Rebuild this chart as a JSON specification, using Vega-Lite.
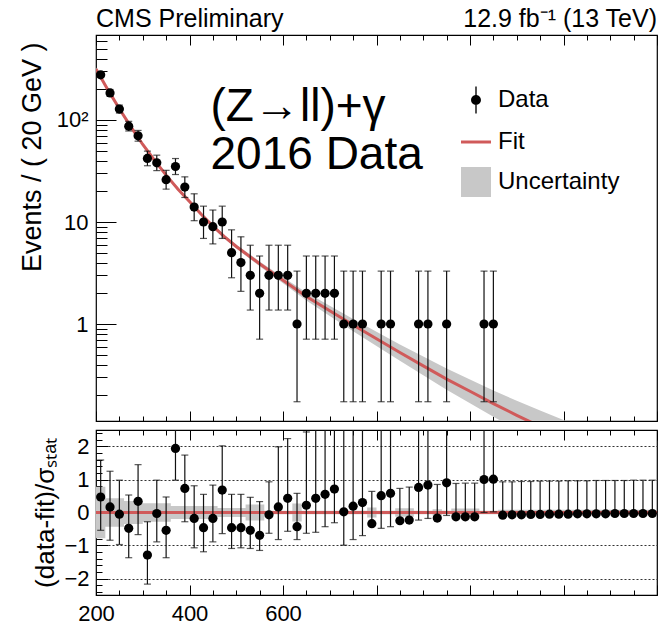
{
  "$schema": "https://vega.github.io/schema/vega-lite/v6.json",
  "background": "white",
  "padding": {"left": 17, "top": 6, "right": 0, "bottom": 0},
  "config": {
    "font": "Liberation Sans",
    "view": {"stroke": "black", "strokeWidth": 1.2},
    "axis": {"domain": false, "grid": false, "labelFont": "Liberation Sans", "labelFontSize": 22, "labelColor": "black", "tickColor": "black", "tickWidth": 1, "titleFont": "Liberation Sans", "titleFontWeight": "normal", "titleColor": "black", "labelFlush": false}
  },
  "datasets": {
    "obs": [
      {"m": 210, "n": 277, "lo": 261, "hi": 295},
      {"m": 230, "n": 184, "lo": 171, "hi": 199},
      {"m": 250, "n": 128, "lo": 117, "hi": 140},
      {"m": 270, "n": 87, "lo": 78, "hi": 97},
      {"m": 290, "n": 70, "lo": 62, "hi": 79},
      {"m": 310, "n": 42, "lo": 35.6, "hi": 49.5},
      {"m": 330, "n": 38, "lo": 31.9, "hi": 45.2},
      {"m": 350, "n": 26, "lo": 21, "hi": 32.1},
      {"m": 370, "n": 35, "lo": 29.2, "hi": 41.9},
      {"m": 390, "n": 22, "lo": 17.4, "hi": 27.7},
      {"m": 410, "n": 14, "lo": 10.3, "hi": 18.9},
      {"m": 430, "n": 10, "lo": 6.9, "hi": 14.3},
      {"m": 450, "n": 9, "lo": 6.1, "hi": 13.1},
      {"m": 470, "n": 10, "lo": 6.9, "hi": 14.3},
      {"m": 490, "n": 5, "lo": 2.84, "hi": 8.38},
      {"m": 510, "n": 4, "lo": 2.09, "hi": 7.16},
      {"m": 530, "n": 3, "lo": 1.37, "hi": 5.92},
      {"m": 550, "n": 2, "lo": 0.71, "hi": 4.64},
      {"m": 570, "n": 3, "lo": 1.37, "hi": 5.92},
      {"m": 590, "n": 3, "lo": 1.37, "hi": 5.92},
      {"m": 610, "n": 3, "lo": 1.37, "hi": 5.92},
      {"m": 630, "n": 1, "lo": 0.173, "hi": 3.3},
      {"m": 650, "n": 2, "lo": 0.71, "hi": 4.64},
      {"m": 670, "n": 2, "lo": 0.71, "hi": 4.64},
      {"m": 690, "n": 2, "lo": 0.71, "hi": 4.64},
      {"m": 710, "n": 2, "lo": 0.71, "hi": 4.64},
      {"m": 730, "n": 1, "lo": 0.173, "hi": 3.3},
      {"m": 750, "n": 1, "lo": 0.173, "hi": 3.3},
      {"m": 770, "n": 1, "lo": 0.173, "hi": 3.3},
      {"m": 810, "n": 1, "lo": 0.173, "hi": 3.3},
      {"m": 830, "n": 1, "lo": 0.173, "hi": 3.3},
      {"m": 890, "n": 1, "lo": 0.173, "hi": 3.3},
      {"m": 910, "n": 1, "lo": 0.173, "hi": 3.3},
      {"m": 950, "n": 1, "lo": 0.173, "hi": 3.3},
      {"m": 1030, "n": 1, "lo": 0.173, "hi": 3.3},
      {"m": 1050, "n": 1, "lo": 0.173, "hi": 3.3}
    ],
    "fit": [
      {"m": 200, "f": 316.2, "fl": 305.5, "fh": 327.3},
      {"m": 225, "f": 199.5, "fl": 192.8, "fh": 206.5},
      {"m": 250, "f": 128.8, "fl": 124.5, "fh": 133.4},
      {"m": 275, "f": 85.1, "fl": 82.2, "fh": 88.1},
      {"m": 300, "f": 57.5, "fl": 55.6, "fh": 59.6},
      {"m": 325, "f": 40.3, "fl": 38.9, "fh": 41.7},
      {"m": 350, "f": 28.8, "fl": 27.9, "fh": 29.9},
      {"m": 375, "f": 21.1, "fl": 20.4, "fh": 21.9},
      {"m": 400, "f": 15.85, "fl": 15.3, "fh": 16.4},
      {"m": 425, "f": 11.9, "fl": 11.5, "fh": 12.3},
      {"m": 450, "f": 9.12, "fl": 8.81, "fh": 9.44},
      {"m": 475, "f": 7.16, "fl": 6.89, "fh": 7.45},
      {"m": 500, "f": 5.75, "fl": 5.51, "fh": 6.01},
      {"m": 550, "f": 3.89, "fl": 3.68, "fh": 4.11},
      {"m": 600, "f": 2.69, "fl": 2.51, "fh": 2.88},
      {"m": 650, "f": 1.86, "fl": 1.7, "fh": 2.04},
      {"m": 700, "f": 1.35, "fl": 1.2, "fh": 1.51},
      {"m": 750, "f": 0.977, "fl": 0.851, "fh": 1.122},
      {"m": 800, "f": 0.716, "fl": 0.61, "fh": 0.841},
      {"m": 850, "f": 0.525, "fl": 0.437, "fh": 0.631},
      {"m": 900, "f": 0.389, "fl": 0.315, "fh": 0.481},
      {"m": 950, "f": 0.288, "fl": 0.227, "fh": 0.366},
      {"m": 1000, "f": 0.219, "fl": 0.1675, "fh": 0.286},
      {"m": 1050, "f": 0.166, "fl": 0.1236, "fh": 0.223},
      {"m": 1100, "f": 0.1274, "fl": 0.0918, "fh": 0.1766},
      {"m": 1150, "f": 0.0989, "fl": 0.069, "fh": 0.1416},
      {"m": 1200, "f": 0.0776, "fl": 0.0525, "fh": 0.1148},
      {"m": 1250, "f": 0.0617, "fl": 0.0403, "fh": 0.0944},
      {"m": 1300, "f": 0.049, "fl": 0.0309, "fh": 0.0776},
      {"m": 1400, "f": 0.0316, "fl": 0.0186, "fh": 0.0537}
    ],
    "res": [
      {"m": 210, "r": 0.47, "rl": -0.54, "rh": 1.59},
      {"m": 230, "r": 0.17, "rl": -0.84, "rh": 1.25},
      {"m": 250, "r": -0.05, "rl": -0.97, "rh": 0.98},
      {"m": 270, "r": -0.48, "rl": -1.37, "rh": 0.53},
      {"m": 290, "r": 0.34, "rl": -0.67, "rh": 1.45},
      {"m": 310, "r": -1.29, "rl": -2.17, "rh": -0.28},
      {"m": 330, "r": -0.03, "rl": -0.89, "rh": 0.98},
      {"m": 350, "r": -0.54, "rl": -1.37, "rh": 0.47},
      {"m": 370, "r": 1.94, "rl": 0.98, "rh": 3.2},
      {"m": 390, "r": 0.73, "rl": -0.28, "rh": 1.74},
      {"m": 410, "r": -0.18, "rl": -1.07, "rh": 0.81},
      {"m": 430, "r": -0.46, "rl": -1.19, "rh": 0.55},
      {"m": 450, "r": -0.18, "rl": -0.89, "rh": 0.83},
      {"m": 470, "r": 0.68, "rl": -0.64, "rh": 2.02},
      {"m": 490, "r": -0.46, "rl": -1.09, "rh": 0.55},
      {"m": 510, "r": -0.46, "rl": -1.07, "rh": 0.55},
      {"m": 530, "r": -0.54, "rl": -1.09, "rh": 0.46},
      {"m": 550, "r": -0.69, "rl": -1.15, "rh": 0.33},
      {"m": 570, "r": -0.07, "rl": -0.63, "rh": 0.93},
      {"m": 590, "r": 0.17, "rl": -0.82, "rh": 1.99},
      {"m": 610, "r": 0.43, "rl": -0.57, "rh": 2.24},
      {"m": 630, "r": -0.43, "rl": -0.82, "rh": 0.58},
      {"m": 650, "r": 0.22, "rl": -0.63, "rh": 2.44},
      {"m": 670, "r": 0.43, "rl": -0.6, "rh": 2.6},
      {"m": 690, "r": 0.55, "rl": -0.43, "rh": 3.2},
      {"m": 710, "r": 0.71, "rl": -0.31, "rh": 3.2},
      {"m": 730, "r": 0.02, "rl": -0.99, "rh": 3.2},
      {"m": 750, "r": 0.19, "rl": -0.82, "rh": 3.2},
      {"m": 770, "r": 0.3, "rl": -0.7, "rh": 3.2},
      {"m": 790, "r": -0.34, "rl": -0.34, "rh": 0.64},
      {"m": 810, "r": 0.51, "rl": -0.48, "rh": 3.2},
      {"m": 830, "r": 0.58, "rl": -0.43, "rh": 3.2},
      {"m": 850, "r": -0.25, "rl": -0.25, "rh": 0.73},
      {"m": 870, "r": -0.23, "rl": -0.23, "rh": 0.77},
      {"m": 890, "r": 0.76, "rl": -0.23, "rh": 3.2},
      {"m": 910, "r": 0.83, "rl": -0.18, "rh": 3.2},
      {"m": 930, "r": -0.17, "rl": -0.17, "rh": 0.85},
      {"m": 950, "r": 0.9, "rl": -0.09, "rh": 3.2},
      {"m": 970, "r": -0.13, "rl": -0.13, "rh": 0.88},
      {"m": 990, "r": -0.13, "rl": -0.13, "rh": 0.89},
      {"m": 1010, "r": -0.13, "rl": -0.13, "rh": 0.89},
      {"m": 1030, "r": 1.0, "rl": 0.0, "rh": 3.2},
      {"m": 1050, "r": 1.01, "rl": 0.02, "rh": 3.2},
      {"m": 1070, "r": -0.08, "rl": -0.08, "rh": 0.93},
      {"m": 1090, "r": -0.07, "rl": -0.07, "rh": 0.93},
      {"m": 1110, "r": -0.07, "rl": -0.07, "rh": 0.94},
      {"m": 1130, "r": -0.06, "rl": -0.06, "rh": 0.94},
      {"m": 1150, "r": -0.06, "rl": -0.06, "rh": 0.95},
      {"m": 1170, "r": -0.05, "rl": -0.05, "rh": 0.95},
      {"m": 1190, "r": -0.05, "rl": -0.05, "rh": 0.95},
      {"m": 1210, "r": -0.05, "rl": -0.05, "rh": 0.96},
      {"m": 1230, "r": -0.04, "rl": -0.04, "rh": 0.96},
      {"m": 1250, "r": -0.04, "rl": -0.04, "rh": 0.96},
      {"m": 1270, "r": -0.04, "rl": -0.04, "rh": 0.97},
      {"m": 1290, "r": -0.04, "rl": -0.04, "rh": 0.97},
      {"m": 1310, "r": -0.03, "rl": -0.03, "rh": 0.97},
      {"m": 1330, "r": -0.03, "rl": -0.03, "rh": 0.97},
      {"m": 1350, "r": -0.03, "rl": -0.03, "rh": 0.98},
      {"m": 1370, "r": -0.03, "rl": -0.03, "rh": 0.98},
      {"m": 1390, "r": -0.03, "rl": -0.03, "rh": 0.98}
    ],
    "rband": [
      {"x": 200, "lo": -0.78, "hi": 0.78},
      {"x": 220, "lo": -0.43, "hi": 0.43},
      {"x": 260, "lo": -0.35, "hi": 0.35},
      {"x": 300, "lo": -0.28, "hi": 0.28},
      {"x": 360, "lo": -0.2, "hi": 0.2},
      {"x": 460, "lo": -0.14, "hi": 0.14},
      {"x": 520, "lo": -0.24, "hi": 0.24},
      {"x": 560, "lo": -0.05, "hi": 0.05},
      {"x": 620, "lo": -0.27, "hi": 0.27},
      {"x": 640, "lo": -0.05, "hi": 0.05},
      {"x": 780, "lo": -0.15, "hi": 0.15},
      {"x": 800, "lo": -0.05, "hi": 0.05},
      {"x": 840, "lo": -0.13, "hi": 0.13},
      {"x": 880, "lo": -0.05, "hi": 0.05},
      {"x": 920, "lo": -0.1, "hi": 0.1},
      {"x": 940, "lo": -0.05, "hi": 0.05},
      {"x": 960, "lo": -0.12, "hi": 0.12},
      {"x": 1020, "lo": -0.05, "hi": 0.05},
      {"x": 1060, "lo": -0.08, "hi": 0.08},
      {"x": 1400, "lo": -0.08, "hi": 0.08}
    ],
    "leg": []
  },
  "resolve": {"legend": {"color": "independent", "shape": "independent"}},
  "spacing": 5,
  "vconcat": [
    {
      "width": 561,
      "height": 386,
      "resolve": {"axis": {"x": "independent", "y": "independent"}},
      "layer": [
        {
          "data": {"name": "fit"},
          "mark": {"type": "area", "color": "#c8c8c8", "clip": true},
          "encoding": {
            "x": {"field": "m", "type": "quantitative", "scale": {"domain": [200, 1400], "nice": false, "zero": false},
                  "axis": {"orient": "bottom", "values": [200, 400, 600, 800, 1000, 1200, 1400], "labels": false, "tickSize": -10, "title": null}},
            "y": {"field": "fl", "type": "quantitative", "scale": {"type": "log", "domain": [0.112, 681], "nice": false},
                  "axis": {"orient": "left", "values": [1, 10, 100], "labelExpr": "datum.value == 100 ? '10²' : (datum.value == 10 ? '10' : '1')", "tickSize": -20, "labelPadding": 28,
                           "title": "Events / ( 20 GeV )", "titleFontSize": 27, "titleAnchor": "end", "titleX": -56, "titleY": 7, "titleBaseline": "alphabetic"}},
            "y2": {"field": "fh"}
          }
        },
        {
          "data": {"name": "fit"},
          "mark": {"type": "line", "color": "#d05a5a", "strokeWidth": 3, "clip": true},
          "encoding": {
            "x": {"field": "m", "type": "quantitative",
                  "axis": {"orient": "bottom", "values": [250, 300, 350, 450, 500, 550, 650, 700, 750, 850, 900, 950, 1050, 1100, 1150, 1250, 1300, 1350], "labels": false, "tickSize": -5, "title": null}},
            "y": {"field": "f", "type": "quantitative",
                  "axis": {"orient": "left", "values": [0.2, 0.3, 0.4, 0.5, 0.6, 0.7, 0.8, 0.9, 2, 3, 4, 5, 6, 7, 8, 9, 20, 30, 40, 50, 60, 70, 80, 90, 200, 300, 400, 500, 600], "labels": false, "tickSize": -11, "title": null}}
          }
        },
        {
          "data": {"name": "obs"},
          "mark": {"type": "rule", "color": "#111", "strokeWidth": 1.2, "clip": true},
          "encoding": {
            "x": {"field": "m", "type": "quantitative",
                  "axis": {"orient": "top", "values": [200, 400, 600, 800, 1000, 1200, 1400], "labels": false, "tickSize": -10, "title": null}},
            "y": {"field": "lo", "type": "quantitative", "axis": null},
            "y2": {"field": "hi"}
          }
        },
        {
          "data": {"name": "obs"},
          "mark": {"type": "tick", "orient": "horizontal", "color": "#111", "thickness": 1.2, "size": 7, "clip": true},
          "encoding": {
            "x": {"field": "m", "type": "quantitative",
                  "axis": {"orient": "top", "values": [250, 300, 350, 450, 500, 550, 650, 700, 750, 850, 900, 950, 1050, 1100, 1150, 1250, 1300, 1350], "labels": false, "tickSize": -5, "title": null}},
            "y": {"field": "lo", "type": "quantitative", "axis": null}
          }
        },
        {
          "data": {"name": "obs"},
          "mark": {"type": "tick", "orient": "horizontal", "color": "#111", "thickness": 1.2, "size": 7, "clip": true},
          "encoding": {
            "x": {"field": "m", "type": "quantitative", "axis": null},
            "y": {"field": "hi", "type": "quantitative", "axis": null}
          }
        },
        {
          "data": {"name": "obs"},
          "mark": {"type": "circle", "color": "black", "opacity": 1, "size": 85},
          "encoding": {
            "x": {"field": "m", "type": "quantitative", "axis": null},
            "y": {"field": "n", "type": "quantitative", "axis": null}
          }
        },
        {
          "data": {"name": "leg"},
          "mark": {"type": "point", "filled": true, "opacity": 1},
          "encoding": {
            "color": {"field": "s", "type": "nominal",
                      "scale": {"domain": ["Data", "Fit", "Uncertainty"], "range": ["black", "#d05a5a", "#c8c8c8"]},
                      "legend": {"orient": "none", "legendX": 365, "legendY": 50, "title": null, "labelFont": "Liberation Sans", "labelFontSize": 24, "labelColor": "black", "symbolSize": 900, "rowPadding": 13, "labelOffset": 7, "symbolStrokeWidth": 0, "symbolOpacity": 1}},
            "shape": {"field": "s", "type": "nominal",
                      "scale": {"domain": ["Data", "Fit", "Uncertainty"],
                                "range": ["M-0.045,-0.9H0.045V0.9H-0.045Z M-0.33,0A0.33,0.33 0 1,1 0.33,0A0.33,0.33 0 1,1 -0.33,0Z", "M-1,-0.1H1V0.1H-1Z", "M-1,-1H1V1H-1Z"]}}
          }
        },
        {
          "data": {"values": [{"t": "(Z→ll)+γ"}]},
          "mark": {"type": "text", "align": "left", "baseline": "alphabetic", "fontSize": 46, "font": "Liberation Sans", "color": "black"},
          "encoding": {
            "x": {"datum": 445, "type": "quantitative", "axis": null},
            "y": {"datum": 98, "type": "quantitative", "axis": null},
            "text": {"field": "t"}
          }
        },
        {
          "data": {"values": [{"t": "2016 Data"}]},
          "mark": {"type": "text", "align": "left", "baseline": "alphabetic", "fontSize": 46, "font": "Liberation Sans", "color": "black"},
          "encoding": {
            "x": {"datum": 445, "type": "quantitative", "axis": null},
            "y": {"datum": 33.3, "type": "quantitative", "axis": null},
            "text": {"field": "t"}
          }
        },
        {
          "data": {"values": [{"t": "CMS Preliminary"}]},
          "mark": {"type": "text", "align": "left", "baseline": "alphabetic", "fontSize": 25, "font": "Liberation Sans", "color": "black"},
          "encoding": {
            "x": {"datum": 200, "type": "quantitative", "axis": null},
            "y": {"datum": 817, "type": "quantitative", "axis": null},
            "text": {"field": "t"}
          }
        },
        {
          "data": {"values": [{"t": "12.9 fb⁻¹ (13 TeV)"}]},
          "mark": {"type": "text", "align": "right", "baseline": "alphabetic", "fontSize": 25, "font": "Liberation Sans", "color": "black"},
          "encoding": {
            "x": {"datum": 1400, "type": "quantitative", "axis": null},
            "y": {"datum": 817, "type": "quantitative", "axis": null},
            "text": {"field": "t"}
          }
        }
      ]
    },
    {
      "width": 561,
      "height": 165,
      "resolve": {"axis": {"x": "independent", "y": "independent"}},
      "layer": [
        {
          "data": {"name": "rband"},
          "mark": {"type": "area", "color": "#c8c8c8", "interpolate": "step-after", "clip": true},
          "encoding": {
            "x": {"field": "x", "type": "quantitative", "scale": {"domain": [200, 1400], "nice": false, "zero": false},
                  "axis": {"orient": "bottom", "values": [200, 400, 600, 800, 1000, 1200, 1400], "labelExpr": "datum.value <= 600 ? datum.label : ''", "tickSize": -10, "labelPadding": 18, "title": null}},
            "y": {"field": "lo", "type": "quantitative", "scale": {"domain": [-2.5, 2.5], "nice": false, "zero": false},
                  "axis": {"orient": "left", "values": [-2, -1, 0, 1, 2], "tickSize": -12, "labelPadding": 19, "grid": true, "gridDash": [2, 2], "gridColor": "#333", "gridWidth": 1,
                           "title": "(data-fit)/σₛₜₐₜ", "titleFontSize": 26, "titleAnchor": "middle", "titleX": -43, "titleBaseline": "alphabetic"}},
            "y2": {"field": "hi"}
          }
        },
        {
          "data": {"values": [{"z": 0}]},
          "mark": {"type": "rule", "color": "#d05a5a", "strokeWidth": 3},
          "encoding": {
            "y": {"field": "z", "type": "quantitative", "axis": null}
          }
        },
        {
          "data": {"name": "res"},
          "mark": {"type": "rule", "color": "#111", "strokeWidth": 1.2, "clip": true},
          "encoding": {
            "x": {"field": "m", "type": "quantitative",
                  "axis": {"orient": "top", "values": [200, 400, 600, 800, 1000, 1200, 1400], "labels": false, "tickSize": -10, "title": null}},
            "y": {"field": "rl", "type": "quantitative",
                  "axis": {"orient": "left", "values": [-2.4, -2.2, -1.8, -1.6, -1.4, -1.2, -0.8, -0.6, -0.4, -0.2, 0.2, 0.4, 0.6, 0.8, 1.2, 1.4, 1.6, 1.8, 2.2, 2.4], "labels": false, "tickSize": -6, "title": null}},
            "y2": {"field": "rh"}
          }
        },
        {
          "data": {"name": "res"},
          "mark": {"type": "tick", "orient": "horizontal", "color": "#111", "thickness": 1.2, "size": 7, "clip": true},
          "encoding": {
            "x": {"field": "m", "type": "quantitative",
                  "axis": {"orient": "bottom", "values": [250, 300, 350, 450, 500, 550, 650, 700, 750, 850, 900, 950, 1050, 1100, 1150, 1250, 1300, 1350], "labels": false, "tickSize": -5, "title": null}},
            "y": {"field": "rh", "type": "quantitative", "axis": null}
          }
        },
        {
          "data": {"name": "res"},
          "mark": {"type": "tick", "orient": "horizontal", "color": "#111", "thickness": 1.2, "size": 7, "clip": true},
          "encoding": {
            "x": {"field": "m", "type": "quantitative",
                  "axis": {"orient": "top", "values": [250, 300, 350, 450, 500, 550, 650, 700, 750, 850, 900, 950, 1050, 1100, 1150, 1250, 1300, 1350], "labels": false, "tickSize": -5, "title": null}},
            "y": {"field": "rl", "type": "quantitative", "axis": null}
          }
        },
        {
          "data": {"name": "res"},
          "mark": {"type": "circle", "color": "black", "opacity": 1, "size": 85},
          "encoding": {
            "x": {"field": "m", "type": "quantitative", "axis": null},
            "y": {"field": "r", "type": "quantitative", "axis": null}
          }
        }
      ]
    }
  ]
}
